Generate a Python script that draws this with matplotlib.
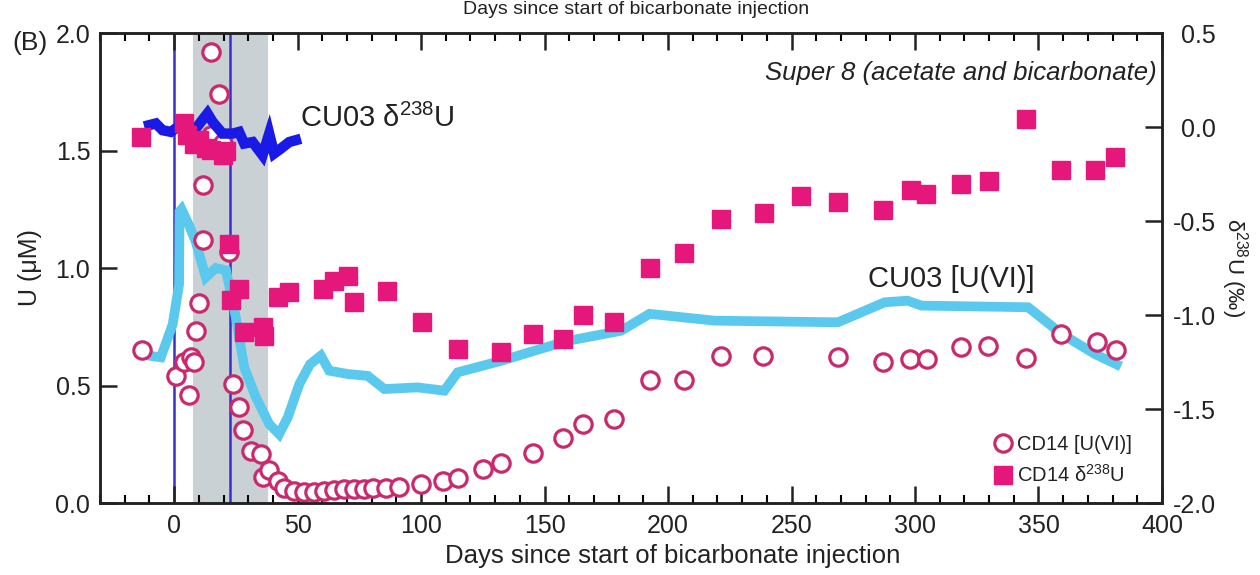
import numpy as np
import matplotlib
matplotlib.use('Agg')
import matplotlib.pyplot as plt
from matplotlib.lines import Line2D
from matplotlib.ticker import MultipleLocator

plt.rcParams['font.family'] = ['Liberation Sans', 'DejaVu Sans']
plt.rcParams['mathtext.fontset'] = 'custom'
plt.rcParams['mathtext.rm'] = 'Liberation Sans'
plt.rcParams['mathtext.it'] = 'Liberation Sans:italic'
plt.rcParams['axes.unicode_minus'] = False

# CD14 [U(VI)] (uM, left axis)
cd14_u_days = [-13.2, 0.7, 4.0, 6.0, 6.8, 8.1, 8.8, 10.1, 11.5, 11.8, 14.9, 15.0, 18.2, 19.6,
               22.3, 23.7, 26.1, 27.7, 31.0, 35.1, 35.8, 38.5, 41.9, 44.6, 48.6, 52.7, 56.7,
               60.8, 64.8, 68.9, 72.9, 77.0, 80.4, 85.8, 91.2, 99.8, 108.8, 114.8, 125.0,
               132.4, 145.2, 157.4, 165.5, 178.3, 192.5, 206.6, 221.5, 238.4, 268.8, 287.0,
               297.8, 305.0, 318.8, 329.6, 345.1, 359.3, 373.5, 381.2]
cd14_u = [0.65, 0.54, 0.60, 0.46, 0.62, 0.60, 0.73, 0.85, 1.12, 1.355, 1.92, 1.565, 1.74, 1.53,
          1.07, 0.506, 0.41, 0.31, 0.22, 0.21, 0.11, 0.14, 0.094, 0.065, 0.051, 0.046, 0.048,
          0.051, 0.054, 0.058, 0.058, 0.058, 0.063, 0.063, 0.068, 0.08, 0.094, 0.108, 0.144,
          0.172, 0.213, 0.277, 0.337, 0.357, 0.523, 0.523, 0.627, 0.627, 0.622, 0.598,
          0.613, 0.613, 0.662, 0.669, 0.617, 0.719, 0.684, 0.651]

# CD14 d238U (permil, right axis)
cd14_d_days = [-13.5, 4.0, 5.4, 8.0, 10.0, 13.0, 15.0, 19.6, 21.0, 22.3, 23.0, 26.3, 28.4,
               35.8, 36.5, 41.9, 46.6, 60.1, 64.8, 70.3, 72.9, 86.2, 100.2, 114.8, 132.4,
               145.2, 157.4, 165.5, 178.3, 192.5, 206.6, 221.5, 238.8, 253.9, 268.8, 287.0,
               298.5, 304.6, 318.8, 329.8, 345.1, 359.3, 372.8, 380.9]
cd14_d = [-0.053, 0.02, -0.04, -0.09, -0.07, -0.11, -0.12, -0.15, -0.13, -0.62, -0.92, -0.86,
          -1.09, -1.065, -1.11, -0.906, -0.879, -0.861, -0.817, -0.79, -0.932, -0.87, -1.039,
          -1.18, -1.199, -1.1, -1.125, -1.0, -1.039, -0.749, -0.671, -0.488, -0.458, -0.369,
          -0.399, -0.44, -0.337, -0.354, -0.301, -0.287, 0.045, -0.23, -0.23, -0.159]

# CU03 d238U (right axis)
cu03_d_days = [-10.1, -7.4, -4.7, -1.3, 1.4, 5.0, 8.8, 11.0, 13.5, 15.6, 19.6, 23.7, 26.3,
               28.4, 31.8, 35.8, 38.5, 40.5, 43.2, 46.6, 49.3]
cu03_d = [0.010, 0.019, -0.017, -0.026, 0.0, -0.01, -0.008, 0.03, 0.072, 0.027, -0.035,
          -0.035, -0.026, -0.088, -0.08, -0.15, -0.035, -0.141, -0.115, -0.08, -0.07]

# CU03 [U(VI)] (left axis)
cu03_u_days = [-10.1, -5.4, -0.6, 2.0, 2.2, 3.0, 6.1, 8.8, 12.8, 16.9, 21.0, 25.0, 28.4, 33.1,
               38.5, 42.5, 46.0, 50.7, 55.0, 59.4, 62.8, 70.3, 78.4, 85.1, 98.6, 109.4, 114.8,
               132.4, 145.9, 159.4, 181.0, 192.5, 218.8, 268.8, 287.7, 297.0, 302.6, 345.8,
               359.3, 372.8, 381.6]
cu03_u = [0.627, 0.62, 0.76, 0.93, 1.24, 1.25, 1.18, 1.11, 0.96, 1.0, 0.99, 0.79, 0.577, 0.45,
          0.336, 0.293, 0.364, 0.506, 0.59, 0.627, 0.563, 0.549, 0.541, 0.485, 0.492, 0.478,
          0.556, 0.605, 0.648, 0.69, 0.733, 0.805, 0.776, 0.769, 0.854, 0.861, 0.84, 0.833,
          0.72, 0.634, 0.59]

injection_lines = [0, 22.7]
shaded = (7.7, 38.0)

pink = '#e6177a'
ring = '#c92a6e'
cyan = '#5bc9ee'
blue = '#1a1ae6'

fig = plt.figure(figsize=(12.6, 5.75), dpi=100)
ax = fig.add_axes([0.0794, 0.1252, 0.8428, 0.8174])
ax2 = ax.twinx()

ax.axvspan(shaded[0], shaded[1], color='#c9d1d5', lw=0, zorder=0)
for d in injection_lines:
    ax.axvline(d, color='#3b2fc9', lw=1.8, zorder=1)
ax.plot(cu03_u_days, cu03_u, color=cyan, lw=7, solid_joinstyle='miter', zorder=2)
ax.plot(cd14_u_days, cd14_u, 'o', ms=12.5, mfc='white', mec=ring, mew=2.3, zorder=3)

ax2.plot(cu03_d_days, cu03_d, color=blue, lw=7.5, solid_joinstyle='miter', zorder=2)
ax2.plot(cd14_d_days, cd14_d, 's', ms=13.5, color=pink, mec=pink, zorder=3)

ax.set_xlim(-30, 400)
ax.set_ylim(0, 2.0)
ax2.set_ylim(-2.0, 0.5)

ax.xaxis.set_major_locator(MultipleLocator(50))
ax.xaxis.set_minor_locator(MultipleLocator(10))
ax.yaxis.set_major_locator(MultipleLocator(0.5))
ax2.yaxis.set_major_locator(MultipleLocator(0.5))
ax.yaxis.set_major_formatter(matplotlib.ticker.FormatStrFormatter('%.1f'))
ax2.yaxis.set_major_formatter(matplotlib.ticker.FormatStrFormatter('%.1f'))

ax.tick_params(axis='x', which='major', direction='in', length=12, width=1.8, top=True,
               labelsize=18, pad=8, colors='#222222')
ax.tick_params(axis='x', which='minor', direction='in', length=6, width=1.5, top=True)
ax.tick_params(axis='y', which='major', direction='in', length=12, width=1.8,
               labelsize=18, pad=7, colors='#222222')
ax2.tick_params(axis='y', which='major', direction='in', length=12, width=1.8,
                labelsize=18, pad=39, colors='#222222')
for t in ax2.get_yticklabels():
    t.set_horizontalalignment('right')

for a in (ax, ax2):
    for s in a.spines.values():
        s.set_linewidth(1.8)
        s.set_color('#222222')

ax.set_xlabel('Days since start of bicarbonate injection', fontsize=18.5, color='#222222')
ax.xaxis.set_label_coords(0.539, -0.088)
ax.set_ylabel('U (μM)', fontsize=18, color='#222222', labelpad=10)
ax2.set_ylabel(r'$\mathrm{δ}^{\mathrm{238}}$U (‰)', fontsize=16, rotation=270,
               color='#222222', labelpad=24)

ax2.text(0.995, 0.915, 'Super 8 (acetate and bicarbonate)', transform=ax.transAxes,
         ha='right', va='center', fontsize=18.5, style='italic', color='#222222')
ax2.text(0.188, 0.818, r'CU03 $\mathrm{δ}^{\mathrm{238}}$U', transform=ax.transAxes,
         ha='left', va='center', fontsize=21, color='#222222')
ax2.text(0.723, 0.476, 'CU03 [U(VI)]', transform=ax.transAxes,
         ha='left', va='center', fontsize=21, color='#222222')

fig.text(0.010, 0.925, '(B)', fontsize=19, color='#222222', ha='left', va='center')
# axis title of the panel above, shown at the very top edge
fig.text(0.505, 0.999, 'Days since start of bicarbonate injection', fontsize=14,
         color='#222222', ha='center', va='top')

handles = [Line2D([], [], ls='none', marker='o', ms=12.5, mfc='white', mec=ring, mew=2.3),
           Line2D([], [], ls='none', marker='s', ms=13.5, color=pink)]
leg = ax2.legend(handles, ['CD14 [U(VI)]', r'CD14 $\mathrm{δ}^{\mathrm{238}}$U'],
                 loc='lower right', bbox_to_anchor=(0.979, 0.02), frameon=False,
                 fontsize=14.5, handlelength=0.8, handletextpad=0.3, labelspacing=0.5,
                 borderaxespad=0)
for t in leg.get_texts():
    t.set_color('#222222')

fig.savefig('out.png', dpi=100)
